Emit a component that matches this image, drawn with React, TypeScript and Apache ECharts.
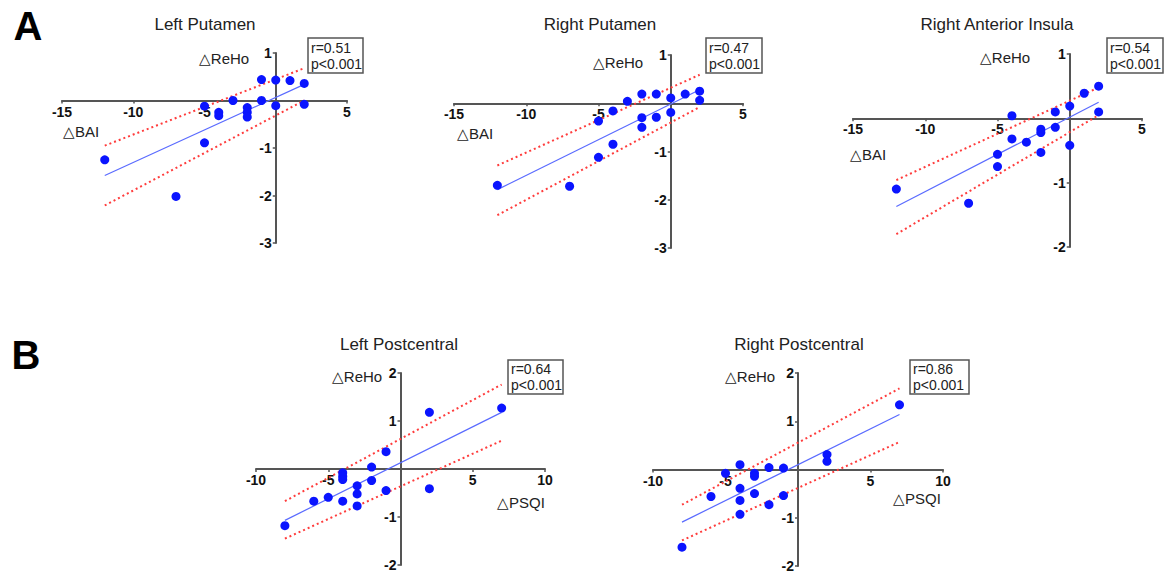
import React, { useEffect, useRef } from "react";
import * as echarts from "echarts";

const FONT = "'Liberation Sans', Arial, Helvetica, sans-serif";

// ---------- Panel A1: Left Putamen (ΔBAI vs ΔReHo)
const lpX = [-1, 0, 1, 2, -3, -1, -5, 0, 2, -4, -4, -2, -2, -2, -5, -12, -7];
const lpY = [0.44, 0.43, 0.42, 0.36, 0.0, 0.0, -0.12, -0.11, -0.08, -0.25, -0.32, -0.15, -0.25, -0.35, -0.89, -1.25, -2.02];
const lpFitX = [-12, 2];
const lpFitY = [-1.58, 0.34];
const lpUpY = [-0.95, 0.68];
const lpLoY = [-2.21, 0.0];

// ---------- Panel A2: Right Putamen
const rpX = [-3, -2, -1, 0, 1, 2, 2, -4, -5, -2, -1, 0, -2, -4, -5, -12, -7];
const rpY = [0.04, 0.19, 0.19, 0.11, 0.19, 0.25, 0.06, -0.16, -0.37, -0.3, -0.29, -0.19, -0.5, -0.85, -1.12, -1.7, -1.72];
const rpFitX = [-12, 2];
const rpFitY = [-1.79, 0.28];
const rpUpY = [-1.29, 0.59];
const rpLoY = [-2.32, -0.08];

// ---------- Panel A3: Right Anterior Insula
const raX = [2, 1, 0, -1, 2, -4, -2, -2, -1, -4, -3, 0, -5, -2, -5, -12, -7];
const raY = [0.5, 0.39, 0.19, 0.1, 0.1, 0.04, -0.17, -0.22, -0.14, -0.32, -0.37, -0.42, -0.56, -0.53, -0.75, -1.1, -1.32];
const raFitX = [-12, 2];
const raFitY = [-1.37, 0.25];
const raUpY = [-0.96, 0.48];
const raLoY = [-1.8, 0.05];

// ---------- Panel B1: Left Postcentral (ΔPSQI vs ΔReHo)
const lcX = [7, 2, -1, -2, -4, -4, -4, -2, -3, -3, -1, 2, -5, -6, -4, -3, -8];
const lcY = [1.27, 1.18, 0.36, 0.04, -0.08, -0.15, -0.22, -0.24, -0.35, -0.52, -0.45, -0.41, -0.59, -0.67, -0.67, -0.77, -1.18];
const lcFitX = [-8, 7];
const lcFitY = [-1.07, 1.18];
const lcUpY = [-0.67, 1.76];
const lcLoY = [-1.45, 0.59];

// ---------- Panel B2: Right Postcentral
const rcX = [7, 2, 2, -4, -2, -1, -5, -3, -3, -4, -6, -3, -4, -1, -2, -4, -8];
const rcY = [1.34, 0.31, 0.17, 0.1, 0.04, 0.03, -0.08, -0.08, -0.14, -0.39, -0.56, -0.5, -0.64, -0.54, -0.73, -0.93, -1.61];
const rcFitX = [-8, 7];
const rcFitY = [-1.09, 1.14];
const rcUpY = [-0.73, 1.68];
const rcLoY = [-1.47, 0.57];

// tick ranges
const aXRange = [-15, 5];
const bXRange = [-10, 10];

type Panel = {
  title: string;
  xs: number[];
  ys: number[];
  fitX: number[];
  fitY: number[];
  upY: number[];
  loY: number[];
  xMin: number;
  xMax: number;
  yMin: number;
  yMax: number;
  stat: string;
  xName: string;
  grid: { left: number; top: number; width: number; height: number };
  titlePos: [number, number];
  yNamePos: [number, number];
  xNamePos: [number, number];
  box: [number, number, number, number];
};

const panels: Panel[] = [
  {
    title: "Left Putamen", xs: lpX, ys: lpY, fitX: lpFitX, fitY: lpFitY, upY: lpUpY, loY: lpLoY,
    xMin: aXRange[0], xMax: aXRange[1], yMin: -3, yMax: 1, stat: "r=0.51\np<0.001", xName: "△BAI",
    grid: { left: 62, top: 53, width: 285, height: 190 },
    titlePos: [205, 24], yNamePos: [224, 58], xNamePos: [81, 131], box: [308, 38, 55, 35],
  },
  {
    title: "Right Putamen", xs: rpX, ys: rpY, fitX: rpFitX, fitY: rpFitY, upY: rpUpY, loY: rpLoY,
    xMin: aXRange[0], xMax: aXRange[1], yMin: -3, yMax: 1, stat: "r=0.47\np<0.001", xName: "△BAI",
    grid: { left: 454, top: 55, width: 289, height: 193 },
    titlePos: [600, 24], yNamePos: [618, 62], xNamePos: [475, 133], box: [706, 38, 56, 35],
  },
  {
    title: "Right Anterior Insula", xs: raX, ys: raY, fitX: raFitX, fitY: raFitY, upY: raUpY, loY: raLoY,
    xMin: aXRange[0], xMax: aXRange[1], yMin: -2, yMax: 1, stat: "r=0.54\np<0.001", xName: "△BAI",
    grid: { left: 853, top: 54, width: 289, height: 193 },
    titlePos: [997, 24], yNamePos: [1005, 57], xNamePos: [868, 154], box: [1107, 38, 56, 35],
  },
  {
    title: "Left Postcentral", xs: lcX, ys: lcY, fitX: lcFitX, fitY: lcFitY, upY: lcUpY, loY: lcLoY,
    xMin: bXRange[0], xMax: bXRange[1], yMin: -2, yMax: 2, stat: "r=0.64\np<0.001", xName: "△PSQI",
    grid: { left: 256, top: 373, width: 289, height: 192 },
    titlePos: [399, 344], yNamePos: [357, 376], xNamePos: [521, 502], box: [508, 360, 55, 34],
  },
  {
    title: "Right Postcentral", xs: rcX, ys: rcY, fitX: rcFitX, fitY: rcFitY, upY: rcUpY, loY: rcLoY,
    xMin: bXRange[0], xMax: bXRange[1], yMin: -2, yMax: 2, stat: "r=0.86\np<0.001", xName: "△PSQI",
    grid: { left: 653, top: 373, width: 290, height: 193 },
    titlePos: [799, 344], yNamePos: [750, 376], xNamePos: [917, 498], box: [910, 360, 59, 34],
  },
];

const AXIS_COLOR = "#555555";
const DOT_COLOR = "#0a14ff";
const FIT_COLOR = "#5a6bff";
const CI_COLOR = "#ff3c3c";

function textEl(text: string, x: number, y: number, size: number, weight: string = "normal", align: string = "center", color = "#222") {
  return {
    type: "text",
    x,
    y,
    z: 50,
    style: {
      text,
      fontSize: size,
      fontFamily: FONT,
      fontWeight: weight,
      fill: color,
      align,
      verticalAlign: "middle",
      textAlign: align,
      textVerticalAlign: "middle",
    },
  };
}

function buildOption() {
  const grid: any[] = [];
  const xAxis: any[] = [];
  const yAxis: any[] = [];
  const series: any[] = [];
  const graphic: any[] = [];

  panels.forEach((p, i) => {
    grid.push({ ...p.grid, containLabel: false });
    const fmt = (v: number) => (v === 0 ? "" : String(v));
    // shift the axes so that they cross at the origin (labels move with them)
    const xOffset = -((0 - p.yMin) / (p.yMax - p.yMin)) * p.grid.height;
    const yOffset = -((0 - p.xMin) / (p.xMax - p.xMin)) * p.grid.width;
    xAxis.push({
      gridIndex: i,
      type: "value",
      position: "bottom",
      offset: xOffset,
      min: p.xMin,
      max: p.xMax,
      interval: 5,
      axisLine: { onZero: false, lineStyle: { color: AXIS_COLOR, width: 2 } },
      axisTick: { show: true, length: 3, lineStyle: { color: AXIS_COLOR, width: 1.5 } },
      axisLabel: { formatter: fmt, fontFamily: FONT, fontWeight: "bold", fontSize: 14, color: "#111", margin: 4 },
      splitLine: { show: false },
    });
    yAxis.push({
      gridIndex: i,
      type: "value",
      position: "left",
      offset: yOffset,
      min: p.yMin,
      max: p.yMax,
      interval: 1,
      axisLine: { show: true, onZero: false, lineStyle: { color: AXIS_COLOR, width: 2 } },
      axisTick: { show: true, length: 3, lineStyle: { color: AXIS_COLOR, width: 1.5 } },
      axisLabel: { formatter: fmt, fontFamily: FONT, fontWeight: "bold", fontSize: 14, color: "#111", margin: 4 },
      splitLine: { show: false },
    });
    const pair = (xs: number[], ys: number[]) => xs.map((x, k) => [x, ys[k]]);
    series.push({
      type: "line",
      xAxisIndex: i,
      yAxisIndex: i,
      data: pair(p.fitX, p.upY),
      showSymbol: false,
      symbol: "none",
      lineStyle: { color: CI_COLOR, width: 2, type: [2, 3] },
      z: 2,
    });
    series.push({
      type: "line",
      xAxisIndex: i,
      yAxisIndex: i,
      data: pair(p.fitX, p.loY),
      showSymbol: false,
      symbol: "none",
      lineStyle: { color: CI_COLOR, width: 2, type: [2, 3] },
      z: 2,
    });
    series.push({
      type: "line",
      xAxisIndex: i,
      yAxisIndex: i,
      data: pair(p.fitX, p.fitY),
      showSymbol: false,
      symbol: "none",
      lineStyle: { color: FIT_COLOR, width: 1.2 },
      z: 3,
    });
    series.push({
      type: "scatter",
      xAxisIndex: i,
      yAxisIndex: i,
      data: pair(p.xs, p.ys),
      symbol: "circle",
      symbolSize: 9,
      itemStyle: { color: DOT_COLOR, opacity: 1 },
      z: 4,
    });

    graphic.push(textEl(p.title, p.titlePos[0], p.titlePos[1], 17));
    graphic.push(textEl("△ReHo", p.yNamePos[0], p.yNamePos[1], 15));
    graphic.push(textEl(p.xName, p.xNamePos[0], p.xNamePos[1], 15));
    const [bx, by, bw, bh] = p.box;
    graphic.push({
      type: "rect",
      z: 40,
      shape: { x: bx, y: by, width: bw, height: bh },
      style: { fill: "#ffffff", stroke: "#555", lineWidth: 1.5 },
    });
    graphic.push({
      type: "text",
      x: bx + 3,
      y: by + bh / 2,
      z: 50,
      style: {
        text: p.stat,
        fontSize: 14,
        fontFamily: FONT,
        fill: "#222",
        lineHeight: 16,
        align: "left",
        verticalAlign: "middle",
        textAlign: "left",
        textVerticalAlign: "middle",
      },
    });
  });

  graphic.push(textEl("A", 28, 26, 40, "bold", "center", "#000"));
  graphic.push(textEl("B", 26, 355, 40, "bold", "center", "#000"));

  return {
    animation: false,
    backgroundColor: "#ffffff",
    grid,
    xAxis,
    yAxis,
    series,
    graphic: { elements: graphic },
  };
}

export default function App() {
  const ref = useRef<HTMLDivElement>(null);
  useEffect(() => {
    if (!ref.current) return;
    const chart = echarts.init(ref.current, null, { renderer: "svg" });
    chart.setOption(buildOption() as any);
    return () => {
      chart.dispose();
    };
  }, []);
  return (
    <div
      ref={ref}
      style={{ position: "absolute", left: 0, top: 0, width: 1170, height: 576, background: "#fff" }}
    />
  );
}
